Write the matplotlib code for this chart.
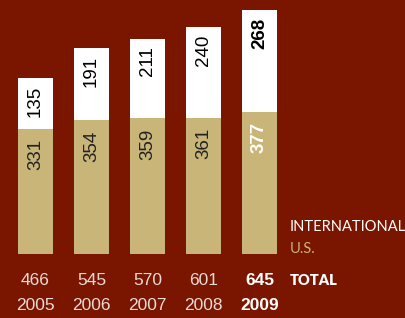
import matplotlib
matplotlib.use('Agg')

import numpy as np
import matplotlib.pyplot as plt

# Data
years = ['2005', '2006', '2007', '2008', '2009']
us = [331, 354, 359, 361, 377]
international = [135, 191, 211, 240, 268]
totals = [466, 545, 570, 601, 645]

# Colours
bg = '#7a1600'
tan = '#c9b578'
light = '#eadbd6'

fig = plt.figure(figsize=(4.06, 3.18), dpi=100, facecolor=bg)
ax = fig.add_axes([0, 0, 1, 1])
ax.set_facecolor(bg)

x = np.arange(len(years))
width = 0.625
ax.bar(x, us, width=width, color=tan, linewidth=0)
ax.bar(x, international, width=width, bottom=us, color='white', linewidth=0)

num_font = 'Liberation Sans'
last = len(years) - 1

# Rotated value labels near the top of each segment
for i in range(len(years)):
    bold = i == last
    ax.text(x[i], totals[i] - 20, str(international[i]), rotation=90,
            ha='center', va='top', fontsize=13.5, family=num_font,
            color='black', fontweight='bold' if bold else 'normal')
    ax.text(x[i], us[i] - 27, str(us[i]), rotation=90,
            ha='center', va='top', fontsize=13.5, family=num_font,
            color='white' if bold else '#222222',
            fontweight='bold' if bold else 'normal')
    # totals and years below bars
    ax.text(x[i], -69, str(totals[i]), ha='center', va='center',
            fontsize=12.5, family=num_font,
            color='white' if bold else light,
            fontweight='bold' if bold else 'normal')
    ax.text(x[i], -135, years[i], ha='center', va='center',
            fontsize=12.5, family=num_font,
            color='white' if bold else light,
            fontweight='bold' if bold else 'normal')

# Legend-style row labels
lx = 4.545
ax.text(lx, 72, 'INTERNATIONAL', ha='left', va='center', fontsize=10.5,
        family='Lato', color='white')
ax.text(lx, 13, 'U.S.', ha='left', va='center', fontsize=10.5,
        family='Lato', color=tan)
ax.text(lx, -69, 'TOTAL', ha='left', va='center', fontsize=10.5,
        family='Lato', color='white', fontweight='heavy')

ax.set_xlim(-0.634, 6.616)
ax.set_ylim(-169, 672)
ax.axis('off')

fig.savefig('out.png', dpi=100, facecolor=bg)
